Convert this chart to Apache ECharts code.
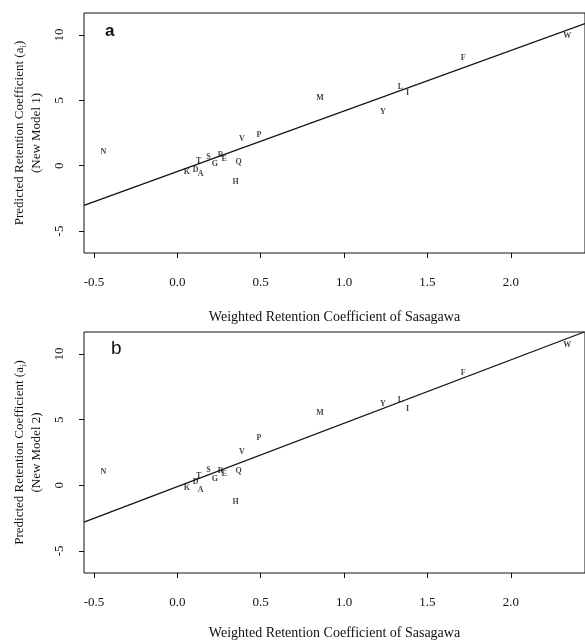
<!DOCTYPE html>
<html>
<head>
<meta charset="utf-8">
<script src="https://cdn.jsdelivr.net/npm/echarts@6/dist/echarts.min.js"></script>
<style>
  html, body { margin: 0; padding: 0; background: #fff; }
  #chart { width: 585px; height: 644px; }
</style>
</head>
<body>
<div id="chart"></div>
<script>
// amino acid labels and Sasagawa weighted retention coefficients (x)
const aminoAcids = ['A', 'D', 'E', 'F', 'G', 'H', 'I', 'K', 'L', 'M', 'N', 'P', 'Q', 'R', 'S', 'T', 'V', 'W', 'Y'];
const sasagawa = [0.14, 0.11, 0.28, 1.715, 0.225, 0.35, 1.38, 0.057, 1.338, 0.855, -0.443, 0.49, 0.367, 0.26, 0.187, 0.128, 0.387, 2.338, 1.232];
// predicted retention coefficients, model 1 (panel a) and model 2 (panel b)
const model1 = [-0.6, -0.33, 0.53, 8.23, 0.15, -1.23, 5.53, -0.45, 6.04, 5.17, 1.06, 2.35, 0.3, 0.86, 0.7, 0.4, 2.07, 9.95, 4.09];
const model2 = [-0.36, 0.25, 0.9, 8.58, 0.45, -1.26, 5.83, -0.2, 6.52, 5.5, 1.01, 3.64, 1.06, 1.1, 1.16, 0.68, 2.58, 10.66, 6.19];
// fitted lines, end points read at the plot edges
const fit1X = [-0.56, 2.445];
const fit1Y = [-3.03, 10.87];
const fit2X = [-0.56, 2.44];
const fit2Y = [-2.8, 11.68];
// tick labels
const xTicks = [-0.5, 0.0, 0.5, 1.0, 1.5, 2.0];
const yTicks = [-5, 0, 5, 10];

const FONT = 'Liberation Serif';
const INK = '#111';

const chart = echarts.init(document.getElementById('chart'));

const makeX = (gridIndex, nameGap) => ({
  type: 'value',
  gridIndex: gridIndex,
  min: -0.56,
  max: 2.445,
  splitLine: { show: false },
  axisLine: { show: false, onZero: false },
  axisTick: { show: true, inside: false, length: 5, customValues: xTicks, lineStyle: { color: INK } },
  axisLabel: {
    customValues: xTicks,
    margin: 23,
    color: INK,
    fontFamily: FONT,
    fontSize: 13,
    formatter: (v) => v.toFixed(1),
  },
  name: 'Weighted Retention Coefficient of Sasagawa',
  nameLocation: 'middle',
  nameGap: nameGap,
  nameTextStyle: { color: INK, fontFamily: FONT, fontSize: 14 },
});

const makeY = (gridIndex, modelName) => ({
  type: 'value',
  gridIndex: gridIndex,
  min: -6.68,
  max: 11.68,
  splitLine: { show: false },
  axisLine: { show: false, onZero: false },
  axisTick: { show: true, inside: false, length: 5, customValues: yTicks, lineStyle: { color: INK } },
  axisLabel: {
    customValues: yTicks,
    rotate: 90,
    margin: 18,
    color: INK,
    fontFamily: FONT,
    fontSize: 13,
    align: 'center',
    verticalAlign: 'bottom',
  },
  name: 'Predicted Retention Coefficient (a{sub|i})\n(' + modelName + ')',
  nameLocation: 'middle',
  nameRotate: 90,
  nameGap: 36,
  nameTextStyle: {
    color: INK,
    fontFamily: FONT,
    fontSize: 13,
    lineHeight: 17,
    rich: {
      sub: { fontFamily: FONT, fontSize: 9, color: INK, verticalAlign: 'bottom', lineHeight: 12 },
    },
  },
});

const letterSeries = (idx, ys) => ({
  type: 'scatter',
  xAxisIndex: idx,
  yAxisIndex: idx,
  symbolSize: 0,
  silent: true,
  data: aminoAcids.map((n, i) => ({ name: n, value: [sasagawa[i], ys[i]] })),
  label: {
    show: true,
    position: 'inside',
    formatter: '{b}',
    color: INK,
    fontFamily: FONT,
    fontWeight: 'bold',
    fontSize: 8,
  },
});

const lineSeries = (idx, xs, ys) => ({
  type: 'line',
  xAxisIndex: idx,
  yAxisIndex: idx,
  symbol: 'none',
  silent: true,
  lineStyle: { color: INK, width: 1.3 },
  data: xs.map((x, i) => [x, ys[i]]),
});

chart.setOption({
  backgroundColor: '#fff',
  animation: false,
  title: [
    { text: 'a', left: 100, top: 18, textStyle: { fontFamily: 'Liberation Sans', fontWeight: 'bold', fontSize: 17, color: INK } },
    { text: 'b', left: 106, top: 334, textStyle: { fontFamily: 'Liberation Sans', fontWeight: 'normal', fontSize: 19, color: INK } },
  ],
  grid: [
    { left: 84, top: 13, width: 501, height: 240, show: true, borderColor: INK, borderWidth: 1, backgroundColor: 'transparent' },
    { left: 84, top: 332, width: 501, height: 241, show: true, borderColor: INK, borderWidth: 1, backgroundColor: 'transparent' },
  ],
  xAxis: [makeX(0, 57), makeX(1, 53)],
  yAxis: [makeY(0, 'New Model 1'), makeY(1, 'New Model 2')],
  series: [
    lineSeries(0, fit1X, fit1Y),
    letterSeries(0, model1),
    lineSeries(1, fit2X, fit2Y),
    letterSeries(1, model2),
  ],
});
</script>
</body>
</html>
